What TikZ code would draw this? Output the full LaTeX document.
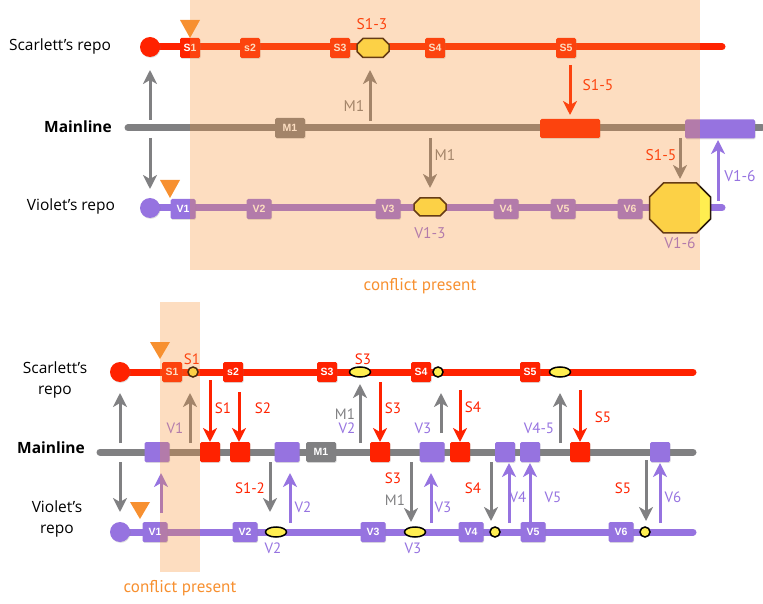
\documentclass[tikz,border=0pt]{standalone}
\usepackage{fontspec}
\setmainfont{Open Sans}
\newfontfamily\labfont{PT Sans}
\newfontfamily\boxfont{Liberation Sans}
\usetikzlibrary{arrows.meta,shadows,shapes.geometric}
\definecolor{cred}{RGB}{255,34,0}
\definecolor{cgrey}{RGB}{128,128,130}
\definecolor{cviolet}{RGB}{150,115,224}
\definecolor{cyellow}{RGB}{255,238,80}
\definecolor{corange}{RGB}{247,144,48}
\definecolor{coutline}{RGB}{40,25,10}
\tikzset{
  lane/.style={line width=7pt,line cap=round},
  commit/.style={rounded corners=1.5pt,minimum height=20pt,inner sep=0pt,
    font=\boxfont\bfseries\fontsize{10.5}{11}\selectfont,text=white,
    drop shadow={opacity=0.25,shadow xshift=0.6pt,shadow yshift=-0.9pt}},
  rc/.style={commit,fill=cred,minimum width=20pt},
  vc/.style={commit,fill=cviolet,minimum width=25pt},
  vcs/.style={commit,fill=cviolet,minimum width=20pt},
  gc/.style={commit,fill=cgrey,minimum width=30pt},
  startdot/.style={circle,minimum size=20pt,inner sep=0pt,
    drop shadow={opacity=0.25,shadow xshift=0.6pt,shadow yshift=-0.9pt}},
  arr/.style={line width=3pt,-{Stealth[length=14pt,width=14pt,inset=4pt]}},
  lbl/.style={font=\labfont\fontsize{15.5}{16}\selectfont,inner sep=0pt},
  lbls/.style={font=\labfont\fontsize{15}{15}\selectfont,inner sep=0pt},
  repo/.style={font=\fontsize{15.5}{21}\selectfont,align=center,inner sep=0pt},
  oct/.style={fill=cyellow,draw=coutline,line width=1.5pt,line join=miter},
  ydot/.style={circle,fill=cyellow,draw=black,line width=1.5pt,minimum size=10pt,inner sep=0pt},
  yell/.style={ellipse,fill=cyellow,draw=black,line width=1.5pt,minimum width=21pt,minimum height=10pt,inner sep=0pt},
  tri/.style={fill=corange},
  overlay/.style={fill=corange,opacity=0.3},
}
% name, cx, cy, half width, half height, chamfer
\newcommand\octa[6]{%
  \coordinate (#1) at (#2,#3);
  \draw[oct] ({#2-#4+#6},{#3-#5}) -- ({#2+#4-#6},{#3-#5}) -- ({#2+#4},{#3-#5+#6})
    -- ({#2+#4},{#3+#5-#6}) -- ({#2+#4-#6},{#3+#5}) -- ({#2-#4+#6},{#3+#5})
    -- ({#2-#4},{#3+#5-#6}) -- ({#2-#4},{#3-#5+#6}) -- cycle;}
\begin{document}
\begin{tikzpicture}[x=1pt,y=-1pt]
\useasboundingbox (0,0) rectangle (763,604);
% ================= TOP DIAGRAM =================
\node[repo] (tlsc) at (60,46) {Scarlett’s repo};
\node[repo,font=\bfseries\fontsize{15.5}{21}\selectfont] (tlml) at (78,127) {Mainline};
\node[repo] (tlvi) at (71,206) {Violet’s repo};
% lanes
\draw[lane,cgrey] (128,128) -- (762,128);
\draw[lane,cred] (150,47) -- (722,47);
\draw[lane,cviolet] (150,208) -- (722,208);
\node[startdot,fill=cred] (tss) at (150,47) {};
\node[startdot,fill=cviolet] (tvs) at (150,208) {};
% scarlett commits
\node[rc] (ts1) at (190,48) {S1};
\node[rc] (ts2) at (250,48) {s2};
\node[rc] (ts3) at (340,48) {S3};
\octa{tso}{373}{48}{16}{9.5}{6}
\node[rc] (ts4) at (435,48) {S4};
\node[rc] (ts5) at (566,48) {S5};
% mainline commits
\node[gc] (tm1) at (290,128) {M1};
\node[commit,fill=cred,minimum width=60pt,minimum height=19pt] (tms) at (570,128.5) {};
\node[commit,fill=cviolet,minimum width=70pt,minimum height=19pt] (tmv) at (720,129) {};
% violet commits
\node[vc] (tv1) at (183,209) {V1};
\node[vc] (tv2) at (259,209) {V2};
\node[vc] (tv3) at (388,209) {V3};
\octa{tvo}{430}{207}{16}{9}{6}
\node[vc] (tv4) at (506,209) {V4};
\node[vc] (tv5) at (563,209) {V5};
\node[vc] (tv6) at (630,209) {V6};
\octa{tvb}{680}{208}{30.5}{25}{14}
% triangles
\fill[tri] (180,20) -- (200,20) -- (190,38) -- cycle;
\fill[tri] (160,180) -- (180,180) -- (170,198) -- cycle;
% arrows
\draw[arr,cgrey] (150,120) -- (150,70);
\draw[arr,cgrey] (150,138) -- (150,189);
\draw[arr,cgrey] (370,121) -- (370,70);
\draw[arr,cgrey] (430,138) -- (430,188);
\draw[arr,cred] (570,65) -- (570,115);
\draw[arr,cgrey] (680,138) -- (680,179);
\draw[arr,cviolet] (718,201) -- (718,140);
% labels
\node[lbl,text=cred] (tl1) at (372,24) {S1-3};
\node[lbl,text=cgrey] (tl2) at (354,106) {M1};
\node[lbl,text=cgrey] (tl3) at (445,155) {M1};
\node[lbl,text=cred] (tl4) at (598,85) {S1-5};
\node[lbl,text=cred] (tl5) at (661,155) {S1-5};
\node[lbl,text=cviolet] (tl6) at (740,176) {V1-6};
\node[lbl,text=cviolet] (tl7) at (430,233) {V1-3};
\node[lbl,text=cviolet] (tl8) at (680,243) {V1-6};
% overlay
\fill[overlay] (190,0) rectangle (700,270);
\node[lbl,font=\labfont\fontsize{17}{17}\selectfont,text=corange] (tcp) at (420,286) {conflict present};
% ================= BOTTOM DIAGRAM =================
\node[repo] (blsc) at (55,380) {Scarlett’s\\repo};
\node[repo,font=\bfseries\fontsize{15.5}{21}\selectfont] (blml) at (51,448) {Mainline};
\node[repo] (blvi) at (57,519) {Violet’s\\repo};
% lanes
\draw[lane,cgrey] (100,452) -- (693,452);
\draw[lane,cred] (120,372) -- (693,372);
\draw[lane,cviolet] (120,532) -- (693,532);
\node[startdot,fill=cred] (bss) at (120,372) {};
\node[startdot,fill=cviolet] (bvs) at (120,532) {};
% scarlett commits
\node[rc] (bs1) at (172,372) {S1};
\node[ydot] (bsd1) at (193,372) {};
\node[rc] (bs2) at (233,372) {s2};
\node[rc] (bs3) at (327,372) {S3};
\node[yell] (bse3) at (360,372) {};
\node[rc] (bs4) at (421,372) {S4};
\node[ydot] (bsd4) at (438,372) {};
\node[rc] (bs5) at (530,372) {S5};
\node[yell] (bse5) at (560,372) {};
% mainline commits
\node[vc] (bm1) at (157,452) {};
\node[rc] (bm2) at (210,452) {};
\node[rc] (bm3) at (240,452) {};
\node[vc] (bm4) at (287,452) {};
\node[gc] (bm5) at (321,452) {M1};
\node[rc] (bm6) at (380,452) {};
\node[vc] (bm7) at (432,452) {};
\node[rc] (bm8) at (460,452) {};
\node[vcs] (bm9) at (505,452) {};
\node[vcs] (bm10) at (530,452) {};
\node[rc] (bm11) at (580,452) {};
\node[vcs] (bm12) at (660,452) {};
% violet commits
\node[vc] (bv1) at (155,532) {V1};
\node[vc] (bv2) at (245,532) {V2};
\node[yell] (bve2) at (276,532) {};
\node[vc] (bv3) at (373,532) {V3};
\node[yell] (bve3) at (415,532) {};
\node[vc] (bv4) at (471,532) {V4};
\node[ydot] (bvd4) at (495,532) {};
\node[vc] (bv5) at (533,532) {V5};
\node[vc] (bv6) at (621,532) {V6};
\node[ydot] (bvd6) at (645,532) {};
% triangles
\fill[tri] (150,342) -- (170,342) -- (160,359) -- cycle;
\fill[tri] (130,502) -- (150,502) -- (140,519) -- cycle;
% upper arrows
\draw[arr,cgrey] (120,443) -- (120,393);
\draw[arr,cgrey] (190,443) -- (190,393);
\draw[arr,cred] (210,380) -- (210,442);
\draw[arr,cred] (239,392) -- (239,442);
\draw[arr,cgrey] (360,443) -- (360,384);
\draw[arr,cred] (380,382) -- (380,442);
\draw[arr,cgrey] (441,433) -- (441,393);
\draw[arr,cred] (460,390) -- (460,442);
\draw[arr,cgrey] (560,443) -- (560,393);
\draw[arr,cred] (580,390) -- (580,442);
% lower arrows
\draw[arr,cgrey] (120,462) -- (120,512);
\draw[arr,cviolet] (161,513) -- (161,473);
\draw[arr,cgrey] (270,462) -- (270,512);
\draw[arr,cviolet] (290,523) -- (290,473);
\draw[arr,cgrey] (411,462) -- (411,522);
\draw[arr,cviolet] (431,523) -- (431,473);
\draw[arr,cgrey] (491,462) -- (491,521);
\draw[arr,cviolet] (509,523) -- (509,463);
\draw[arr,cviolet] (530,522) -- (530,463);
\draw[arr,cgrey] (646,460) -- (646,521);
\draw[arr,cviolet] (660,523) -- (660,463);
% labels
\node[lbls,text=cred] (bl1) at (192,359) {S1};
\node[lbls,text=cred] (bl2) at (363,359) {S3};
\node[lbls,text=cviolet] (bl3) at (175,428) {V1};
\node[lbls,text=cred] (bl4) at (223,408) {S1};
\node[lbls,text=cred] (bl5) at (263,408) {S2};
\node[lbls,text=cgrey] (bl6) at (345,414) {M1};
\node[lbls,text=cviolet] (bl7) at (347,428) {V2};
\node[lbls,text=cred] (bl8) at (393,408) {S3};
\node[lbls,text=cviolet] (bl9) at (423,428) {V3};
\node[lbls,text=cred] (bl10) at (473,407) {S4};
\node[lbls,text=cviolet] (bl11) at (539,428) {V4-5};
\node[lbls,text=cred] (bl12) at (603,417) {S5};
\node[lbls,text=cred] (bl13) at (250,488) {S1-2};
\node[lbls,text=cviolet] (bl14) at (303,507) {V2};
\node[lbls,text=cred] (bl15) at (393,478) {S3};
\node[lbls,text=cgrey] (bl16) at (395,500) {M1};
\node[lbls,text=cviolet] (bl17) at (443,507) {V3};
\node[lbls,text=cred] (bl18) at (473,488) {S4};
\node[lbls,text=cviolet] (bl19) at (518,497) {V4};
\node[lbls,text=cviolet] (bl20) at (553,497) {V5};
\node[lbls,text=cred] (bl21) at (623,488) {S5};
\node[lbls,text=cviolet] (bl22) at (673,497) {V6};
\node[lbls,text=cviolet] (bl23) at (273,548) {V2};
\node[lbls,text=cviolet] (bl24) at (413,548) {V3};
% overlay
\fill[overlay] (160,302) rectangle (200,572);
\node[lbl,font=\labfont\fontsize{17}{17}\selectfont,text=corange] (bcp) at (180,588) {conflict present};
\end{tikzpicture}
\end{document}
